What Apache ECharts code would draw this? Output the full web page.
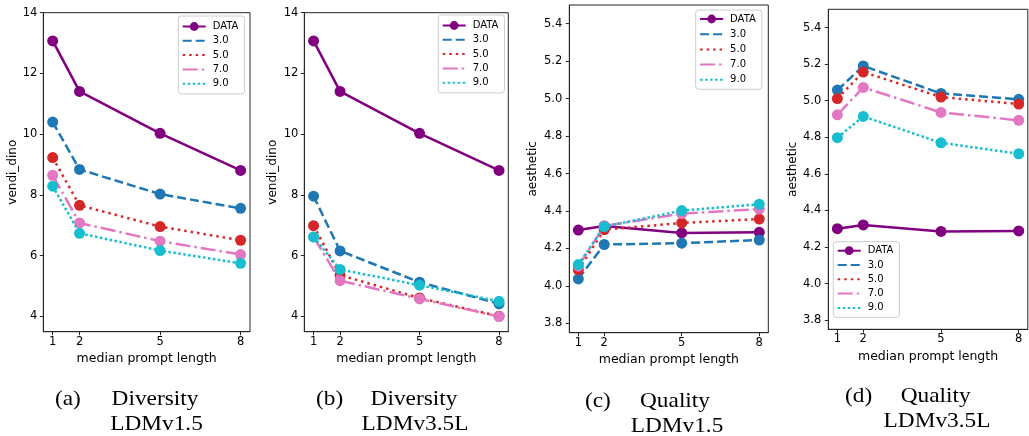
<!DOCTYPE html>
<html>
<head>
<meta charset="utf-8">
<script src="https://cdn.jsdelivr.net/npm/echarts@6/dist/echarts.min.js"></script>
<style>html,body{margin:0;padding:0;background:#fff;}#c{width:1029px;height:436px;}</style>
</head>
<body>
<div id="c"></div>
<script>
// ---- data ----
const promptLengths = [1, 2, 5, 8];
const seriesNames = ['DATA', '3.0', '5.0', '7.0', '9.0'];
const xTicks = [1, 2, 5, 8];
const yTicksDiversity = [4, 6, 8, 10, 12, 14];
const yTicksQuality = [3.8, 4.0, 4.2, 4.4, 4.6, 4.8, 5.0, 5.2, 5.4];

// (a) Diversity LDMv1.5 (vendi_dino)
const a_DATA = [13.07, 11.41, 10.03, 8.81];
const a_30 = [10.40, 8.84, 8.03, 7.56];
const a_50 = [9.23, 7.66, 6.96, 6.51];
const a_70 = [8.65, 7.08, 6.48, 6.04];
const a_90 = [8.29, 6.74, 6.17, 5.75];

// (b) Diversity LDMv3.5L (vendi_dino)
const b_DATA = [13.07, 11.41, 10.03, 8.81];
const b_30 = [7.96, 6.16, 5.13, 4.42];
const b_50 = [6.99, 5.36, 4.61, 4.01];
const b_70 = [6.62, 5.18, 4.58, 4.00];
const b_90 = [6.62, 5.55, 5.03, 4.50];

// (c) Quality LDMv1.5 (aesthetic)
const c_DATA = [4.298, 4.320, 4.283, 4.286];
const c_30 = [4.037, 4.221, 4.228, 4.245];
const c_50 = [4.086, 4.300, 4.336, 4.357];
const c_70 = [4.105, 4.320, 4.386, 4.410];
const c_90 = [4.114, 4.316, 4.402, 4.436];

// (d) Quality LDMv3.5L (aesthetic)
const d_DATA = [4.300, 4.321, 4.285, 4.288];
const d_30 = [5.058, 5.190, 5.040, 5.008];
const d_50 = [5.012, 5.157, 5.020, 4.982];
const d_70 = [4.923, 5.073, 4.936, 4.893];
const d_90 = [4.798, 4.914, 4.770, 4.710];

const xLabel = 'median prompt length';
const yLabels = ['vendi_dino', 'vendi_dino', 'aesthetic', 'aesthetic'];
const captionLabels = ['(a)', '(b)', '(c)', '(d)'];
const captionLine1 = ['Diversity', 'Diversity', 'Quality', 'Quality'];
const captionLine2 = ['LDMv1.5', 'LDMv3.5L', 'LDMv1.5', 'LDMv3.5L'];

const panelValues = [
  [a_DATA, a_30, a_50, a_70, a_90],
  [b_DATA, b_30, b_50, b_70, b_90],
  [c_DATA, c_30, c_50, c_70, c_90],
  [d_DATA, d_30, d_50, d_70, d_90]
];

// ---- styles / layout ----
const colors = ['#800080', '#1f77b4', '#d62728', '#e377c2', '#17becf'];
const dashes = ['solid', [9, 4], [2.5, 4], [15, 4, 2.5, 4], [2.5, 2.5]];
const grids = [
  {left: 43.3, top: 12.7, width: 206.7, height: 319},
  {left: 304.3, top: 12.7, width: 204, height: 319},
  {left: 569.3, top: 5, width: 199, height: 327.7},
  {left: 828.3, top: 9.3, width: 199.5, height: 320}
];
const yRanges = [[3.5, 14], [3.5, 14], [3.75, 5.5], [3.75, 5.5]];
const yNameGaps = [23, 25, 30, 29];
const yLabelMargins = [6, 6, 7, 7];
const legendPos = [
  {left: 178.3, top: 16, pad: [5.5, 6, 5.2, 3.4], gap: 4.3},
  {left: 438.3, top: 15, pad: [5.5, 6, 5.2, 3.4], gap: 4.3},
  {left: 695.7, top: 10, pad: [4, 6, 4.5, 3.4], gap: 5.2},
  {left: 833.3, top: 241.7, pad: [4, 6, 4.5, 3.4], gap: 4.3}
];
const captionPos = [
  {lx: 55, cx: 155, cx2: 156.5, b1: 406.7, b2: 431.7},
  {lx: 316, cx: 414, cx2: 415, b1: 406.7, b2: 431.7},
  {lx: 585, cx: 675, cx2: 677, b1: 408.3, b2: 434},
  {lx: 845, cx: 935.7, cx2: 937, b1: 403.3, b2: 428.3}
];

const frame = '#262626';
const tickFont = 'DejaVu Sans';

const option = {
  animation: false,
  backgroundColor: '#fff',
  grid: grids.map(g => Object.assign({show: true, borderColor: frame, borderWidth: 1, backgroundColor: 'transparent'}, g)),
  xAxis: grids.map((g, i) => ({
    type: 'value', gridIndex: i, min: 0.65, max: 8.35,
    axisLine: {show: true, onZero: false, lineStyle: {color: frame, width: 1}},
    axisTick: {show: true, inside: false, length: 3.5, customValues: xTicks, lineStyle: {color: frame, width: 1}},
    axisLabel: {customValues: xTicks, fontSize: 11.5, fontFamily: tickFont, color: '#000', margin: 4},
    splitLine: {show: false},
    name: xLabel, nameLocation: 'middle', nameGap: 19.5,
    nameTextStyle: {fontSize: 12.5, fontFamily: tickFont, color: '#000'}
  })),
  yAxis: grids.map((g, i) => ({
    type: 'value', gridIndex: i, min: yRanges[i][0], max: yRanges[i][1],
    axisLine: {show: true, onZero: false, lineStyle: {color: frame, width: 1}},
    axisTick: {show: true, inside: false, length: 3.5, customValues: i < 2 ? yTicksDiversity : yTicksQuality, lineStyle: {color: frame, width: 1}},
    axisLabel: {customValues: i < 2 ? yTicksDiversity : yTicksQuality, fontSize: 11.5, fontFamily: tickFont, color: '#000', margin: yLabelMargins[i],
      formatter: v => (i < 2 ? String(Math.round(v)) : Number(v).toFixed(1))},
    splitLine: {show: false},
    name: yLabels[i], nameLocation: 'middle', nameGap: yNameGaps[i], nameRotate: 90,
    nameTextStyle: {fontSize: 12, fontFamily: tickFont, color: '#000'}
  })),
  legend: legendPos.map(p => ({
    orient: 'vertical', left: p.left, top: p.top, padding: p.pad,
    itemWidth: 23, itemHeight: 11, itemGap: p.gap,
    borderColor: '#cccccc', borderWidth: 1, borderRadius: 3,
    backgroundColor: 'rgba(255,255,255,0.8)',
    selectedMode: false,
    textStyle: {fontSize: 10, fontFamily: tickFont, color: '#000', padding: [0, 0, 0, 2]},
    data: seriesNames.map((n, j) => j === 0 ? {name: n} : {name: n, itemStyle: {opacity: 0}})
  })),
  series: [],
  graphic: []
};

panelValues.forEach((vals, i) => {
  vals.forEach((arr, j) => {
    option.series.push({
      type: 'line', name: seriesNames[j], xAxisIndex: i, yAxisIndex: i,
      data: promptLengths.map((x, k) => [x, arr[k]]),
      symbol: 'circle', symbolSize: 11, showSymbol: true,
      lineStyle: {color: colors[j], width: 2.5, type: dashes[j], cap: 'butt'},
      itemStyle: {color: colors[j], borderWidth: 0},
      emphasis: {disabled: true},
      z: 2 + j
    });
  });
});

const capFont = 22;
const capFam = '"Liberation Serif", "Times New Roman", serif';
captionPos.forEach((c, i) => {
  const off = 0.34 * capFont;
  option.graphic.push({type: 'text', x: c.lx, y: c.b1 - off, scaleX: 1.06,
    style: {text: captionLabels[i], fontSize: capFont, fontFamily: capFam, fill: '#000', textAlign: 'left', textVerticalAlign: 'middle'}});
  option.graphic.push({type: 'text', x: c.cx, y: c.b1 - off, scaleX: 1.06,
    style: {text: captionLine1[i], fontSize: capFont, fontFamily: capFam, fill: '#000', textAlign: 'center', textVerticalAlign: 'middle'}});
  option.graphic.push({type: 'text', x: c.cx2, y: c.b2 - off, scaleX: 1.06,
    style: {text: captionLine2[i], fontSize: capFont, fontFamily: capFam, fill: '#000', textAlign: 'center', textVerticalAlign: 'middle'}});
});

const chart = echarts.init(document.getElementById('c'), null, {renderer: 'canvas'});
chart.setOption(option);
</script>
</body>
</html>
